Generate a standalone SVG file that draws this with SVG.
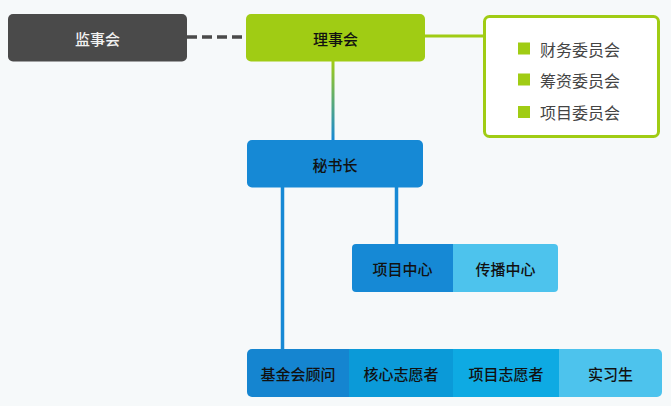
<svg xmlns="http://www.w3.org/2000/svg" width="671" height="406" viewBox="0 0 671 406">
<defs>
<style>
text{font-family:"Noto Sans CJK SC","Liberation Sans",sans-serif;font-size:15px;font-weight:500;text-anchor:middle;dominant-baseline:central;fill:#111}
.w{fill:#f2f2f2}
.li{fill:#444;text-anchor:start;font-size:16px;font-weight:400}
.bul{fill:#a0cc14}
</style>
<linearGradient id="g1" x1="0" y1="0" x2="0" y2="1">
<stop offset="0" stop-color="#a0cc14"/>
<stop offset="1" stop-color="#1689d5"/>
</linearGradient>
<clipPath id="c1"><rect x="352" y="244" width="206" height="48" rx="4"/></clipPath>
<clipPath id="c2"><rect x="247" y="349" width="415" height="48" rx="5"/></clipPath>
</defs>
<rect width="671" height="406" fill="#f6f9fa"/>
<g id="connectors">
<line x1="187" y1="37" x2="246" y2="37" stroke="#4a4a4a" stroke-width="3.5" stroke-dasharray="10,5"/>
<line x1="425" y1="36" x2="484" y2="36" stroke="#a0cc14" stroke-width="3"/>
<rect x="331.5" y="61" width="3" height="79" fill="url(#g1)"/>
<line x1="282.5" y1="187" x2="282.5" y2="350" stroke="#1689d5" stroke-width="3.5"/>
<line x1="396.5" y1="187" x2="396.5" y2="244" stroke="#1689d5" stroke-width="3.5"/>
</g>
<g id="jianshihui">
<rect x="8" y="14" width="179" height="47.5" rx="5" fill="#4a4a4a"/>
<text class="w" x="97.5" y="38">监事会</text>
</g>
<g id="lishihui">
<rect x="246" y="14" width="179" height="47.5" rx="5" fill="#a0cc14"/>
<text x="335.5" y="38">理事会</text>
</g>
<g id="committees">
<rect x="484.5" y="16.5" width="174" height="120" rx="5" fill="#fff" stroke="#a0cc14" stroke-width="3"/>
<rect class="bul" x="518" y="42.5" width="12" height="12"/>
<text class="li" x="540" y="49">财务委员会</text>
<rect class="bul" x="518" y="73.5" width="12" height="12"/>
<text class="li" x="540" y="79.5">筹资委员会</text>
<rect class="bul" x="518" y="106" width="12" height="12"/>
<text class="li" x="540" y="111.5">项目委员会</text>
</g>
<g id="mishuzhang">
<rect x="247" y="140" width="176" height="47.5" rx="5" fill="#1689d5"/>
<text x="335" y="164">秘书长</text>
</g>
<g id="centers" clip-path="url(#c1)">
<rect x="352" y="244" width="101" height="48" fill="#1689d5"/>
<rect x="453" y="244" width="105" height="48" fill="#4dc3ed"/>
<text x="402.5" y="268">项目中心</text>
<text x="505.5" y="268">传播中心</text>
</g>
<g id="bottom" clip-path="url(#c2)">
<rect x="247" y="349" width="102" height="48" fill="#1585d0"/>
<rect x="349" y="349" width="104" height="48" fill="#0b9ad8"/>
<rect x="453" y="349" width="106" height="48" fill="#0eaae3"/>
<rect x="559" y="349" width="103" height="48" fill="#4dc3ed"/>
<text x="298" y="373.5">基金会顾问</text>
<text x="401" y="373.5">核心志愿者</text>
<text x="506" y="373.5">项目志愿者</text>
<text x="610.5" y="373.5">实习生</text>
</g>
</svg>
